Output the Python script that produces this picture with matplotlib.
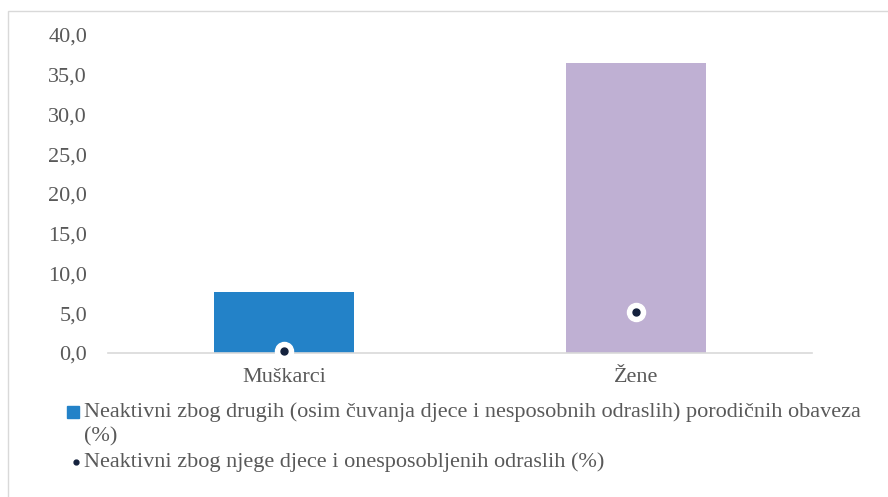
import matplotlib.pyplot as plt
from matplotlib.patches import Rectangle
from matplotlib.lines import Line2D

# Podaci
kategorije = ['Muškarci', 'Žene']
drugi_razlozi = [7.7, 36.5]
njega = [0.3, 5.1]
boje_stubova = ['#2382c8', '#bfb0d3']
y_tickovi = [0, 5, 10, 15, 20, 25, 30, 35, 40]

plt.rcParams['font.family'] = ['Liberation Serif', 'DejaVu Serif']
siva = '#595959'
fs = 16

fig = plt.figure(figsize=(8.88, 4.97), dpi=100)
ax = fig.add_axes([108 / 888, 1 - 353 / 497, 704 / 888, 318 / 497])

x = list(range(len(kategorije)))
ax.bar(x, drugi_razlozi, width=0.4, color=boje_stubova, zorder=2)

# Tačke sa bijelim okvirom
ax.plot(x, njega, linestyle='none', marker='o', ms=13, mfc='white', mec='white',
        clip_on=False, zorder=3)
ax.plot(x, njega, linestyle='none', marker='o', ms=5, mfc='#14213d', mec='#14213d',
        clip_on=False, zorder=4)

ax.set_xlim(-0.5, 1.5)
ax.set_ylim(0, 40)
ax.set_yticks(y_tickovi)
ax.set_yticklabels([f'{v:.1f}'.replace('.', ',') for v in y_tickovi])
ax.set_xticks(x)
ax.set_xticklabels(kategorije)
ax.tick_params(axis='both', length=0, labelsize=fs, colors=siva)
ax.tick_params(axis='y', pad=15)
ax.tick_params(axis='x', pad=11)

for s in ['top', 'right', 'left']:
    ax.spines[s].set_visible(False)
ax.spines['bottom'].set_color('#d9d9d9')
ax.spines['bottom'].set_linewidth(1.2)

# Okvir grafika
fig.patches.append(Rectangle((8 / 888, -0.1), 1.0, 1 - 11 / 497 + 0.1,
                             transform=fig.transFigure, fill=False,
                             edgecolor='#d9d9d9', linewidth=1))

# Legenda
fig.add_artist(Line2D([73 / 888], [1 - 412 / 497], marker='s', ms=8,
                      color=boje_stubova[0], linestyle='none'))
fig.text(84 / 888, 1 - 412 / 497,
         'Neaktivni zbog drugih (osim čuvanja djece i nesposobnih odraslih) porodičnih obaveza',
         fontsize=fs, color=siva, va='center')
fig.text(84 / 888, 1 - 437 / 497, '(%)', fontsize=fs, color=siva, va='center')
fig.add_artist(Line2D([76 / 888], [1 - 462 / 497], marker='o', ms=3.5,
                      color='#14213d', linestyle='none'))
fig.text(84 / 888, 1 - 462 / 497,
         'Neaktivni zbog njege djece i onesposobljenih odraslih (%)',
         fontsize=fs, color=siva, va='center')

fig.savefig('out.png', dpi=100)
